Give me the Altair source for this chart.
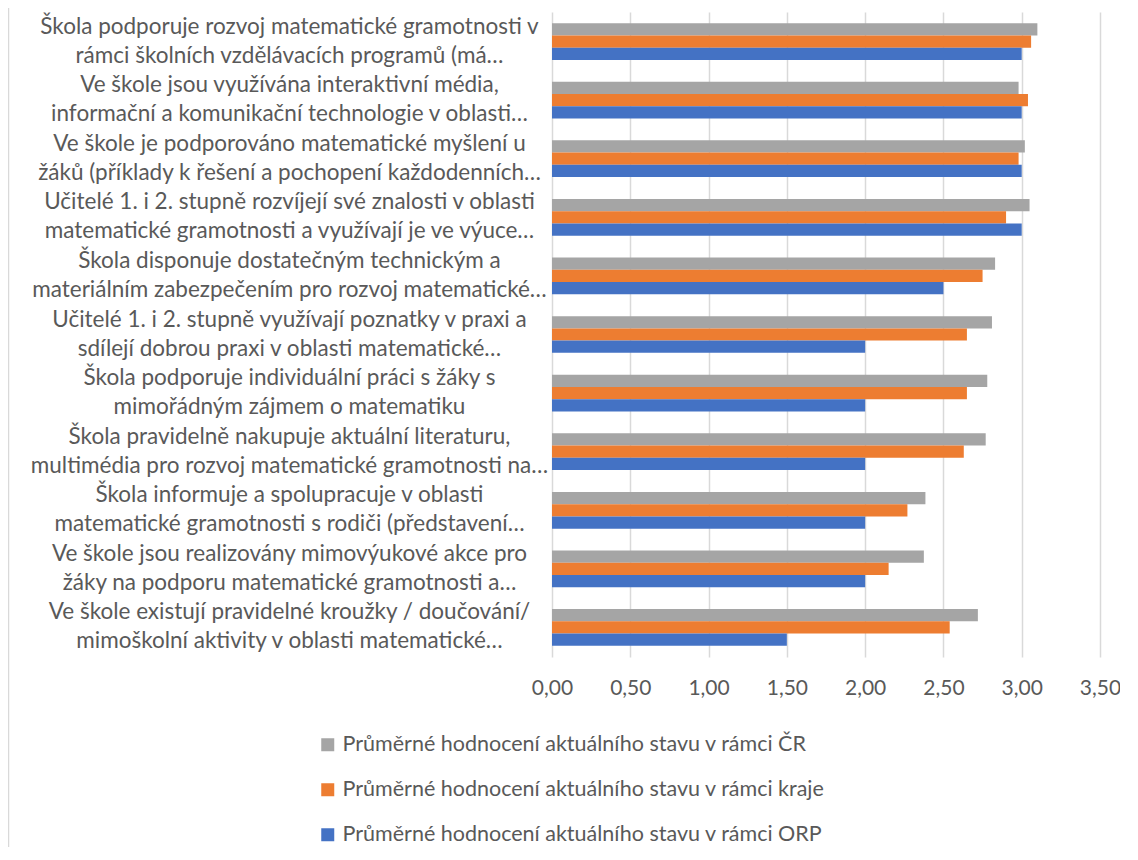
import altair as alt
import pandas as pd

categories = [
    "Škola podporuje rozvoj matematické gramotnosti v|rámci školních vzdělávacích programů (má…",
    "Ve škole jsou využívána interaktivní média,|informační a komunikační technologie v oblasti…",
    "Ve škole je podporováno matematické myšlení u|žáků (příklady k řešení a pochopení každodenních…",
    "Učitelé 1. i 2. stupně rozvíjejí své znalosti v oblasti|matematické gramotnosti a využívají je ve výuce…",
    "Škola disponuje dostatečným technickým a|materiálním zabezpečením pro rozvoj matematické…",
    "Učitelé 1. i 2. stupně využívají poznatky v praxi a|sdílejí dobrou praxi v oblasti matematické…",
    "Škola podporuje individuální práci s žáky s|mimořádným zájmem o matematiku",
    "Škola pravidelně nakupuje aktuální literaturu,|multimédia pro rozvoj matematické gramotnosti na…",
    "Škola informuje a spolupracuje v oblasti|matematické gramotnosti s rodiči (představení…",
    "Ve škole jsou realizovány mimovýukové akce pro|žáky na podporu matematické gramotnosti a…",
    "Ve škole existují pravidelné kroužky / doučování/|mimoškolní aktivity v oblasti matematické…",
]

series = [
    "Průměrné hodnocení aktuálního stavu v rámci ČR",
    "Průměrné hodnocení aktuálního stavu v rámci kraje",
    "Průměrné hodnocení aktuálního stavu v rámci ORP",
]

values_cr = [3.10, 2.98, 3.02, 3.05, 2.83, 2.81, 2.78, 2.77, 2.385, 2.375, 2.72]
values_kraj = [3.06, 3.04, 2.98, 2.90, 2.75, 2.65, 2.65, 2.63, 2.27, 2.15, 2.54]
values_orp = [3.00, 3.00, 3.00, 3.00, 2.50, 2.00, 2.00, 2.00, 2.00, 2.00, 1.50]

colors = ["#A5A5A5", "#ED7D31", "#4472C4"]
x_ticks = [0, 0.5, 1.0, 1.5, 2.0, 2.5, 3.0, 3.5]

rows = []
for s, vals in zip(series, [values_cr, values_kraj, values_orp]):
    for c, v in zip(categories, vals):
        rows.append({"cat": c, "series": s, "value": v})
df = pd.DataFrame(rows)

FONT = "Lato"
TXT = "#595959"

bars = alt.Chart(df).mark_bar().encode(
    x=alt.X(
        "value:Q",
        scale=alt.Scale(domain=[0, 3.5], nice=False, zero=True),
        axis=alt.Axis(
            values=x_ticks,
            labelExpr="replace(format(datum.value, '.2f'), '.', ',')",
            grid=True, gridColor="#D9D9D9", gridWidth=1.5,
            domain=False, ticks=False, title=None,
            labelFont=FONT, labelFontSize=21, labelColor=TXT, labelPadding=20,
            labelFlush=False,
        ),
    ),
    y=alt.Y(
        "cat:N",
        sort=categories,
        scale=alt.Scale(paddingInner=0.373, paddingOuter=0.19),
        axis=alt.Axis(
            labelExpr="split(datum.label, '|')",
            labelAlign="center", labelBaseline="middle",
            labelPadding=263, labelLimit=800, labelOffset=-15,
            labelFont=FONT, labelFontSize=22.5, labelLineHeight=29, labelColor=TXT,
            ticks=False, domain=False, title=None,
        ),
    ),
    yOffset=alt.YOffset("series:N", sort=series, scale=alt.Scale(paddingInner=0, paddingOuter=0)),
    color=alt.Color(
        "series:N",
        sort=series,
        scale=alt.Scale(domain=series, range=colors),
        legend=alt.Legend(
            title=None, orient="none", direction="vertical",
            legendX=-235, legendY=722, padding=0,
            symbolType="square", symbolSize=169, symbolStrokeWidth=0,
            labelFont=FONT, labelFontSize=21.5, labelColor=TXT,
            rowPadding=22, labelOffset=4, labelLimit=800,
        ),
    ),
)

frame = alt.Chart(pd.DataFrame({"f": [0]})).mark_rule(color="#D9D9D9", strokeWidth=1.5).encode(
    x=alt.value(-543.5), y=alt.value(-6), y2=alt.value(850)
)

chart = alt.layer(bars, frame).properties(
    width=548,
    height=645,
    autosize=alt.AutoSizeParams(type="none"),
    padding={"left": 544, "top": 4, "right": 20, "bottom": 190},
).configure_view(stroke=None)

chart.save("out.html", embed_options={"renderer": "svg", "actions": False})
